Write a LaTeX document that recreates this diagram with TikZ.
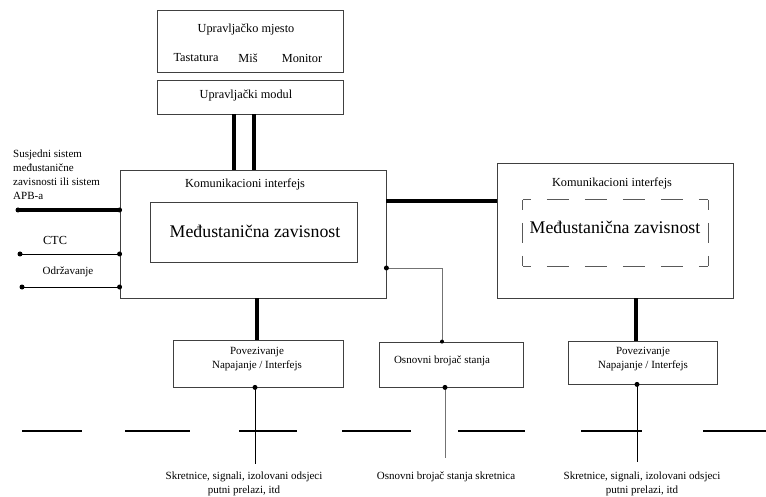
\documentclass[tikz,border=0pt]{standalone}
\usepackage{fontspec}
\setmainfont{Liberation Serif}
\begin{document}
\begin{tikzpicture}[x=1pt,y=-1pt,
  box/.style={draw=black!75,line width=0.8pt,rectangle,inner sep=0pt},
  dside/.style={draw=black!65,line width=0.8pt},
  thickline/.style={line width=3.5pt},
  thinline/.style={line width=0.8pt},
  grayline/.style={line width=0.9pt,draw=black!55},
  dot/.style={circle,fill=black,inner sep=0pt,minimum size=5pt},
  small/.style={font=\fontsize{12.3}{14}\selectfont,inner sep=0pt},
  mid/.style={font=\fontsize{11}{14}\selectfont,inner sep=0pt,align=center},
  big/.style={font=\fontsize{17.8}{20}\selectfont,inner sep=0pt}]
\useasboundingbox (0,0) rectangle (766,497);
% boxes
\node[box,minimum width=186pt,minimum height=62pt] (um) at (250,41) {};
\node[small] (umt) at (246,30) {Upravljačko mjesto};
\node[small] (tast) at (196,58) {Tastatura};
\node[small] (mis) at (248,58) {Miš};
\node[small] (mon) at (302,58) {Monitor};
\node[box,minimum width=186pt,minimum height=34pt] (mod) at (250,97) {};
\node[small] (modt) at (246,96) {Upravljački modul};
\node[box,minimum width=266pt,minimum height=128pt] (L) at (253,234) {};
\node[small] (Lt) at (245,184) {Komunikacioni interfejs};
\node[box,minimum width=207pt,minimum height=60pt] (Li) at (253.5,232) {};
\node[big] (Lit) at (255,231) {Međustanična zavisnost};
\node[box,minimum width=236pt,minimum height=135pt] (R) at (615,230.5) {};
\node[small] (Rt) at (612,183) {Komunikacioni interfejs};
\node[rectangle,inner sep=0pt,minimum width=185pt,minimum height=66pt] (Ri) at (615.5,233) {};
\draw[dside,dash pattern=on 8pt off 16pt on 22pt off 16pt on 22pt off 16pt on 22pt off 16pt on 22pt off 16pt on 9pt]
  (Ri.north west) -- (Ri.north east);
\draw[dside,dash pattern=on 8pt off 16pt on 22pt off 16pt on 22pt off 16pt on 22pt off 16pt on 22pt off 16pt on 9pt]
  (Ri.south west) -- (Ri.south east);
\draw[dside,dash pattern=on 10pt off 13pt on 20pt off 13pt on 10pt]
  (Ri.north west) -- (Ri.south west);
\draw[dside,dash pattern=on 10pt off 13pt on 20pt off 13pt on 10pt]
  (Ri.north east) -- (Ri.south east);
\node[big] (Rit) at (615,227) {Međustanična zavisnost};
\node[box,minimum width=170pt,minimum height=47pt] (P1) at (258,363.5) {};
\node[mid] (P1t) at (257,359) {Povezivanje\\Napajanje / Interfejs};
\node[box,minimum width=144pt,minimum height=45pt] (OB) at (451,364.5) {};
\node[mid] (OBt) at (442,361) {Osnovni brojač stanja};
\node[box,minimum width=149pt,minimum height=43pt] (P2) at (642.5,362.5) {};
\node[mid] (P2t) at (643,359) {Povezivanje\\Napajanje / Interfejs};
% left side labels
\node[mid,align=left,anchor=north west] (apbt) at (13,150) {Susjedni sistem\\međustanične\\zavisnosti ili sistem\\APB-a};
\node[small] (ctct) at (55,240) {CTC};
\node[mid] (odrt) at (68,272) {Održavanje};
% free-end coordinates
\coordinate (apb) at (18,210);
\coordinate (ctc) at (20,254);
\coordinate (odr) at (22,287);
\coordinate (c1) at (234,0);
\coordinate (c2) at (254,0);
\coordinate (lr) at (0,201);
\coordinate (ob) at (0,268);
\coordinate (obx) at (442,0);
\coordinate (p1x) at (257,0);
\coordinate (p2x) at (636,0);
\coordinate (f1) at (255,464);
\coordinate (f2) at (445,458);
\coordinate (f3) at (637,462);
% connectors
\draw[thickline] (mod.south -| c1) -- (L.north -| c1);
\draw[thickline] (mod.south -| c2) -- (L.north -| c2);
\draw[thickline] (apb) -- (apb -| L.west);
\node[dot] at (apb) {};
\node[dot] at (apb -| L.west) {};
\draw[thinline] (ctc) -- (ctc -| L.west);
\node[dot] at (ctc) {};
\node[dot] at (ctc -| L.west) {};
\draw[thinline] (odr) -- (odr -| L.west);
\node[dot] at (odr) {};
\node[dot] at (odr -| L.west) {};
\draw[thickline] (lr -| L.east) -- (lr -| R.west);
\draw[grayline] (ob -| L.east) -| (OB.north -| obx);
\node[dot] at (ob -| L.east) {};
\node[dot,minimum size=4pt] at (OB.north -| obx) {};
\draw[thickline] (L.south -| p1x) -- (P1.north -| p1x);
\draw[thickline] (R.south -| p2x) -- (P2.north -| p2x);
\draw[thinline] (P1.south -| f1) -- (f1);
\node[dot] at (P1.south -| f1) {};
\draw[grayline] (OB.south -| f2) -- (f2);
\node[dot] at (OB.south -| f2) {};
\draw[thinline] (P2.south -| f3) -- (f3);
\node[dot] at (P2.south -| f3) {};
% tracks
\foreach \a/\b in {22/82,125/190,239/297,342/411,458/525,581/642,703/766}
  \draw[line width=2.5pt] (\a,431) -- (\b,431);
% bottom labels
\node[mid] (b1) at (244,484) {Skretnice, signali, izolovani odsjeci\\putni prelazi, itd};
\node[mid] (b2) at (446,477) {Osnovni brojač stanja skretnica};
\node[mid] (b3) at (642,484) {Skretnice, signali, izolovani odsjeci\\putni prelazi, itd};
\end{tikzpicture}
\end{document}
